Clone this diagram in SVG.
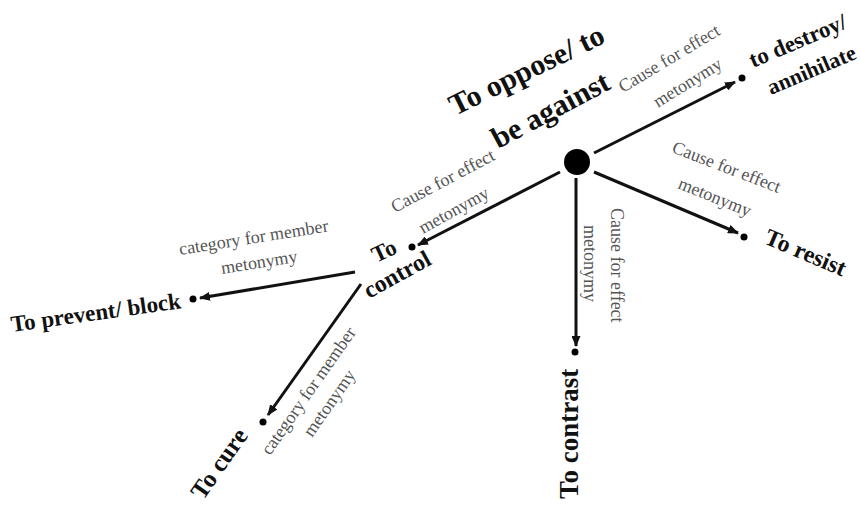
<svg xmlns="http://www.w3.org/2000/svg" width="860" height="505" viewBox="0 0 860 505">
<style>
.node{font-family:"Liberation Serif","Times New Roman",serif;font-weight:bold;font-size:23px;fill:#111}
.title{font-size:30px}
.lbl{font-family:"Liberation Serif","Times New Roman",serif;font-size:18px;fill:#555}
.edge{stroke:#111;stroke-width:3;fill:none}
.dot{fill:#000}
</style>
<defs>
<marker id="ah" markerUnits="userSpaceOnUse" markerWidth="11" markerHeight="9" refX="10" refY="4.5" orient="auto">
<path d="M0,0 L11,4.5 L0,9 Z" fill="#111"/>
</marker>
</defs>
<rect width="860" height="505" fill="#fff"/>
<g id="connectors">
<line class="edge" x1="594" y1="153" x2="735" y2="82" marker-end="url(#ah)"/>
<line class="edge" x1="560" y1="172" x2="418" y2="245" marker-end="url(#ah)"/>
<line class="edge" x1="355" y1="272" x2="200" y2="298" marker-end="url(#ah)"/>
<line class="edge" x1="361" y1="284" x2="268" y2="415" marker-end="url(#ah)"/>
<line class="edge" x1="576" y1="178" x2="576" y2="346" marker-end="url(#ah)"/>
<line class="edge" x1="594" y1="172" x2="738" y2="233" marker-end="url(#ah)"/>
<text class="lbl" transform="translate(623,93) rotate(-31)">Cause for effect</text>
<text class="lbl" transform="translate(658,108) rotate(-32)">metonymy</text>
<text class="lbl" transform="translate(395,213) rotate(-28)">Cause for effect</text>
<text class="lbl" transform="translate(423,234) rotate(-29)">metonymy</text>
<text class="lbl" transform="translate(180,255) rotate(-9)">category for member</text>
<text class="lbl" transform="translate(222,274) rotate(-9)">metonymy</text>
<text class="lbl" transform="translate(270,456) rotate(-55)">category for member</text>
<text class="lbl" transform="translate(312,438) rotate(-55)">metonymy</text>
<text class="lbl" transform="translate(611,208) rotate(90)">Cause for effect</text>
<text class="lbl" transform="translate(584,225) rotate(90)">metonymy</text>
<text class="lbl" transform="translate(671,152) rotate(21)">Cause for effect</text>
<text class="lbl" transform="translate(677,188) rotate(22)">metonymy</text>
</g>
<g id="n-center">
<circle cx="577" cy="162" r="13" class="dot"/>
<text class="node title" transform="translate(455,116) rotate(-26)">To oppose/ to</text>
<text class="node title" transform="translate(498,149) rotate(-28)">be against</text>
</g>
<g id="n-destroy">
<circle cx="742" cy="78" r="3.5" class="dot"/>
<text class="node" transform="translate(753,68) rotate(-23)">to destroy/</text>
<text class="node" style="font-size:22px" transform="translate(771,95) rotate(-23)">annihilate</text>
</g>
<g id="n-control">
<circle cx="412" cy="247" r="3.5" class="dot"/>
<text class="node" transform="translate(376,263) rotate(-25)">To</text>
<text class="node" style="font-size:24px" transform="translate(369,299) rotate(-29)">control</text>
</g>
<g id="n-prevent">
<circle cx="193" cy="299" r="3.5" class="dot"/>
<text class="node" transform="translate(12,332) rotate(-8)">To prevent/ block</text>
</g>
<g id="n-cure">
<circle cx="263" cy="422" r="3.5" class="dot"/>
<text class="node" style="font-size:25px" transform="translate(203,501) rotate(-55)">To cure</text>
</g>
<g id="n-contrast">
<circle cx="575" cy="352" r="3.5" class="dot"/>
<text class="node" style="font-size:27px" transform="translate(578,499) rotate(-90)">To contrast</text>
</g>
<g id="n-resist">
<circle cx="744" cy="237" r="3.5" class="dot"/>
<text class="node" style="font-size:24px" transform="translate(763,243) rotate(23)">To resist</text>
</g>
</svg>
